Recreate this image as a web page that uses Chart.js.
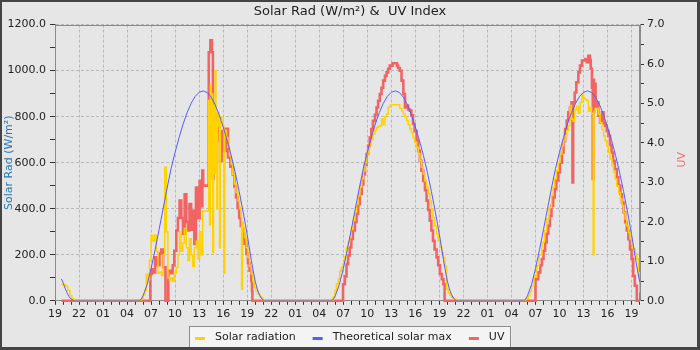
<!DOCTYPE html>
<html>
<head>
<meta charset="utf-8">
<title>Solar Rad &amp; UV Index</title>
<script src="https://cdn.jsdelivr.net/npm/chart.js@4.4.1/dist/chart.umd.min.js"></script>
<style>
  html, body { margin: 0; padding: 0; background: #e6e6e6; }
  #wrap { width: 700px; height: 350px; }
</style>
</head>
<body>
<div id="wrap"><canvas id="chart" width="700" height="350"></canvas></div>
<script>
// Hours are counted from 19:00 on the first day of the window.
const X_MAX = 73.05;
const xTickLabels = ['19', '22', '01', '04', '07', '10', '13', '16', '19', '22', '01', '04', '07',
                     '10', '13', '16', '19', '22', '01', '04', '07', '10', '13', '16', '19'];

// [hour, W/m²]
const solarRad = [
  [0.8, 72], [1.1, 70], [1.35, 62], [1.6, 45], [1.85, 22], [2.1, 8], [2.4, 0],
  [10.56, 0], [10.8, 10], [11.0, 25], [11.2, 45], [11.4, 115], [11.6, 90], [11.8, 175], [12.0, 285],
  [12.2, 260], [12.45, 285], [12.65, 215], [12.85, 120], [13.05, 125], [13.3, 110], [13.5, 200],
  [13.7, 580], [13.9, 300], [14.1, 100], [14.3, 90], [14.5, 100], [14.7, 85], [14.9, 120], [15.15, 145],
  [15.35, 200], [15.55, 300], [15.75, 215], [15.95, 250], [16.15, 315], [16.4, 230], [16.6, 175],
  [16.8, 270], [17.0, 200], [17.2, 150], [17.4, 230], [17.65, 260], [17.85, 180], [18.05, 300],
  [18.25, 200], [18.45, 390], [19.2, 870], [19.3, 330], [19.4, 940], [19.5, 600], [19.6, 900],
  [19.7, 210], [19.8, 850], [19.9, 550], [20.0, 1000], [20.1, 780], [20.2, 400], [20.3, 820],
  [20.45, 760], [20.55, 230], [20.65, 800], [20.8, 790], [21.0, 760], [21.1, 120], [21.2, 740],
  [21.4, 710], [21.6, 667], [21.8, 630], [22.0, 594], [22.2, 550], [22.4, 507], [22.6, 470],
  [22.85, 435], [23.05, 400], [23.25, 362], [23.3, 50], [23.4, 340], [23.5, 320], [23.7, 275],
  [23.9, 230], [24.1, 188], [24.3, 150], [24.5, 116], [24.7, 85], [24.9, 58], [25.1, 40],
  [25.35, 29], [25.6, 18], [25.8, 10], [26.0, 4], [26.2, 0],
  [34.5, 0], [34.7, 15], [34.95, 45], [35.15, 73], [35.35, 95], [35.56, 130], [35.75, 145],
  [35.98, 160], [36.2, 190], [36.4, 232], [36.6, 255], [36.8, 275], [37.0, 310], [37.2, 348],
  [37.45, 385], [37.65, 420], [37.85, 455], [38.06, 493], [38.3, 530], [38.5, 565], [38.7, 600],
  [38.9, 638], [39.1, 660], [39.3, 681], [39.5, 700], [39.7, 725], [39.95, 740], [40.15, 753],
  [40.35, 758], [40.56, 761], [40.77, 790], [40.98, 765], [41.2, 800], [41.4, 812], [41.6, 840],
  [41.8, 848], [42.0, 852], [42.85, 852], [43.06, 835], [43.3, 825], [43.5, 812], [43.7, 800],
  [43.9, 783], [44.1, 765], [44.3, 747], [44.5, 730], [44.7, 710], [44.9, 690], [45.15, 667],
  [45.35, 640], [45.56, 609], [45.75, 580], [45.98, 551], [46.2, 520], [46.4, 493], [46.6, 465],
  [46.8, 435], [47.0, 400], [47.2, 362], [47.4, 325], [47.65, 290], [47.85, 260], [48.06, 232],
  [48.3, 210], [48.5, 188], [48.7, 150], [48.9, 50], [49.1, 35], [49.3, 25], [49.5, 15],
  [49.7, 8], [50.15, 0],
  [58.5, 0], [58.8, 10], [59.1, 22], [59.3, 40], [59.5, 65], [59.8, 105], [60.15, 152], [60.45, 200],
  [60.8, 254], [61.1, 305], [61.4, 355], [61.7, 405], [62.0, 457], [62.2, 493], [62.4, 529],
  [62.6, 565], [62.85, 601], [63.05, 638], [63.3, 674], [63.5, 695], [63.7, 717], [63.9, 740],
  [64.1, 761], [64.3, 848], [64.5, 790], [64.7, 780], [64.9, 830], [65.1, 845], [65.35, 815],
  [65.56, 862], [65.8, 899], [66.0, 880], [66.2, 875], [66.4, 870], [66.6, 823], [66.8, 840],
  [67.0, 815], [67.2, 200], [67.3, 820], [67.45, 835], [67.65, 835], [67.85, 810], [68.06, 775],
  [68.3, 745], [68.5, 717], [68.7, 695], [68.9, 674], [69.1, 645], [69.3, 616], [69.55, 587],
  [69.75, 558], [69.95, 529], [70.15, 500], [70.4, 471], [70.6, 442], [70.8, 413], [71.0, 384],
  [71.2, 355], [71.4, 326], [71.6, 297], [71.8, 268], [72.0, 246], [72.2, 225], [72.45, 204],
  [72.65, 182], [72.85, 123], [73.05, 36]
];

// [hour, W/m²]
const theoreticalMax = [
  [0.8, 95], [1.0, 80], [1.25, 55], [1.5, 35], [1.75, 18], [2.0, 8], [2.4, 0],
  [10.5, 0], [10.75, 6], [11.0, 22], [11.5, 70], [12.0, 140], [12.5, 222], [13.0, 310], [13.5, 400],
  [14.0, 490], [14.5, 575], [15.0, 645], [15.5, 710], [16.0, 768], [16.5, 818], [17.0, 858],
  [17.5, 888], [18.0, 906], [18.5, 912], [19.0, 905], [19.5, 885], [20.0, 852], [20.5, 808],
  [21.0, 755], [21.5, 697], [22.0, 632], [22.5, 558], [23.0, 475], [23.5, 385], [24.0, 288],
  [24.5, 180], [24.75, 130], [25.0, 85], [25.25, 52], [25.5, 28], [25.75, 12], [26.0, 4], [26.2, 0],
  [34.5, 0], [34.75, 6], [35.0, 22], [35.5, 70], [36.0, 140], [36.5, 222], [37.0, 310], [37.5, 400],
  [38.0, 490], [38.5, 575], [39.0, 645], [39.5, 710], [40.0, 768], [40.5, 818], [41.0, 858],
  [41.5, 888], [42.0, 906], [42.5, 912], [43.0, 905], [43.5, 885], [44.0, 852], [44.5, 808],
  [45.0, 755], [45.5, 697], [46.0, 632], [46.5, 558], [47.0, 475], [47.5, 385], [48.0, 288],
  [48.5, 180], [48.75, 130], [49.0, 85], [49.25, 52], [49.5, 28], [49.75, 12], [50.0, 4], [50.2, 0],
  [58.5, 0], [58.75, 6], [59.0, 22], [59.5, 70], [60.0, 140], [60.5, 222], [61.0, 310], [61.5, 400],
  [62.0, 490], [62.5, 575], [63.0, 645], [63.5, 710], [64.0, 768], [64.5, 818], [65.0, 858],
  [65.5, 888], [66.0, 906], [66.5, 912], [67.0, 905], [67.5, 885], [68.0, 852], [68.5, 808],
  [69.0, 755], [69.5, 697], [70.0, 632], [70.5, 558], [71.0, 475], [71.5, 385], [72.0, 288],
  [72.5, 180], [72.75, 130], [73.0, 85], [73.05, 80]
];

// [hour, UV index]
const uvIndex = [
  [0.8, 0], [11.9, 0.68], [12.1, 0.8], [12.3, 0.72], [12.5, 1.1], [12.75, 0.9], [13.05, 1.2],
  [13.27, 1.3], [13.5, 0.85], [13.8, 0], [14.15, 0.76], [14.5, 0.7], [14.7, 0.9], [14.9, 1.27],
  [15.15, 1.78], [15.35, 2.1], [15.56, 2.54], [15.77, 2.1], [15.98, 1.7], [16.19, 2.7], [16.4, 2.0],
  [16.6, 1.78], [16.8, 2.45], [17.0, 1.8], [17.2, 2.28], [17.4, 1.44], [17.6, 2.87], [17.8, 2.1],
  [18.06, 3.04], [18.27, 2.4], [18.4, 3.3], [18.5, 2.92], [19.2, 6.3], [19.4, 6.6], [19.6, 6.3],
  [19.72, 3.1], [19.8, 4.7], [20.1, 4.5], [20.4, 4.06], [20.6, 3.55], [20.8, 4.3], [21.0, 3.8],
  [21.3, 4.36], [21.6, 3.63], [21.9, 3.4], [22.2, 3.2], [22.4, 2.9], [22.6, 2.62], [22.8, 2.35],
  [23.0, 2.1], [23.2, 1.9], [23.4, 1.7], [23.65, 1.45], [23.9, 1.19], [24.1, 0.95], [24.3, 0.76],
  [24.5, 0.5], [24.6, 0.25], [24.65, 0],
  [35.97, 0.42], [36.2, 0.62], [36.4, 0.93], [36.6, 1.15], [36.8, 1.35], [37.0, 1.57], [37.2, 1.78],
  [37.45, 2.0], [37.65, 2.2], [37.85, 2.45], [38.06, 2.71], [38.3, 2.95], [38.5, 3.21], [38.7, 3.45],
  [38.9, 3.72], [39.1, 3.93], [39.3, 4.14], [39.5, 4.35], [39.7, 4.56], [39.95, 4.72], [40.15, 4.9],
  [40.35, 5.07], [40.56, 5.24], [40.77, 5.4], [40.98, 5.58], [41.2, 5.7], [41.4, 5.79], [41.6, 5.88],
  [41.8, 5.96], [42.15, 6.02], [42.7, 5.96], [42.85, 5.9], [43.06, 5.83], [43.27, 5.58], [43.5, 5.24],
  [43.7, 4.9], [43.9, 4.95], [44.1, 4.85], [44.3, 4.82], [44.5, 4.7], [44.7, 4.48], [44.9, 4.3],
  [45.15, 4.06], [45.35, 3.8], [45.56, 3.55], [45.75, 3.3], [45.98, 3.04], [46.2, 2.8], [46.4, 2.54],
  [46.6, 2.3], [46.8, 2.03], [47.0, 1.78], [47.2, 1.52], [47.4, 1.3], [47.65, 1.1], [47.85, 0.9],
  [48.06, 0.68], [48.3, 0.55], [48.5, 0.42], [48.65, 0],
  [60.0, 0.55], [60.35, 0.72], [60.6, 0.9], [60.8, 1.06], [61.0, 1.27], [61.2, 1.48], [61.4, 1.7],
  [61.6, 1.9], [61.8, 2.15], [62.0, 2.41], [62.2, 2.62], [62.4, 2.83], [62.6, 3.05], [62.85, 3.25],
  [63.05, 3.5], [63.3, 3.76], [63.5, 4.05], [63.7, 4.35], [63.9, 4.57], [64.1, 4.78], [64.3, 4.9],
  [64.5, 5.03], [64.62, 3.0], [64.7, 5.03], [64.9, 5.28], [65.1, 5.54], [65.35, 5.79], [65.56, 5.96],
  [65.8, 6.09], [66.2, 6.13], [66.4, 6.05], [66.6, 6.21], [66.8, 6.1], [66.9, 5.88], [67.05, 5.4],
  [67.15, 3.09], [67.22, 5.6], [67.3, 4.8], [67.4, 5.5], [67.5, 4.9], [67.65, 5.03], [67.85, 4.69],
  [68.06, 4.52], [68.3, 4.78], [68.5, 4.5], [68.7, 4.44], [68.9, 4.3], [69.1, 4.18], [69.3, 3.95],
  [69.5, 3.76], [69.7, 3.55], [69.9, 3.34], [70.15, 3.13], [70.35, 2.92], [70.6, 2.7], [70.8, 2.49],
  [71.0, 2.24], [71.2, 1.99], [71.4, 1.78], [71.6, 1.56], [71.8, 1.3], [72.0, 1.06], [72.2, 0.63],
  [72.4, 0.38], [72.65, 0], [73.05, 0]
];

const BG = '#e6e6e6';
const GRID = '#b9b9b9';
const AXIS = '#8a8a8a';
const TEXT = '#222222';
const YELLOW = '#ffd200';
const BLUE = '#5a5aff';
const RED = '#f26464';
const UV_TITLE = '#f07070';
const FONT = "'DejaVu Sans', sans-serif";

const toXY = (rows) => rows.map(([x, y]) => ({ x, y }));

Chart.defaults.font.family = FONT;
Chart.defaults.font.size = 11;
Chart.defaults.color = TEXT;

// background, plot frame, right axis title, boxed legend and outer border
const decor = {
  id: 'decor',
  beforeDraw(chart) {
    const { ctx } = chart;
    ctx.save();
    ctx.fillStyle = BG;
    ctx.fillRect(0, 0, chart.width, chart.height);
    ctx.restore();
  },
  beforeDatasetsDraw(chart) {
    const { ctx, chartArea: a } = chart;
    ctx.save();
    ctx.strokeStyle = AXIS;
    ctx.lineWidth = 1;
    ctx.strokeRect(Math.round(a.left) + 0.5, Math.round(a.top) + 0.5,
                   Math.round(a.right - a.left) - 1, Math.round(a.bottom - a.top) - 1);
    ctx.restore();
  },
  afterDraw(chart) {
    const { ctx, chartArea: a } = chart;
    ctx.save();
    ctx.font = '11px ' + FONT;

    // right axis title
    ctx.save();
    ctx.translate(682, (a.top + a.bottom) / 2 - 3);
    ctx.rotate(-Math.PI / 2);
    ctx.fillStyle = UV_TITLE;
    ctx.textAlign = 'center';
    ctx.textBaseline = 'middle';
    ctx.fillText('UV', 0, 0);
    ctx.restore();

    // legend
    const items = chart.data.datasets.map(d => ({ text: d.label, color: d.borderColor }));
    const dash = 10, gapText = 10, gapItem = 17;
    const widths = items.map(it => dash + gapText + ctx.measureText(it.text).width);
    const total = widths.reduce((s, w) => s + w, 0) + gapItem * (items.length - 1);
    let x = Math.round(chart.width / 2 - total / 2);
    const yMid = 337.5;
    ctx.fillStyle = '#f4f4f4';
    ctx.fillRect(x - 5, 326, total + 12, 22);
    ctx.strokeStyle = '#8c8c8c';
    ctx.lineWidth = 1;
    ctx.strokeRect(x - 5.5, 326.5, Math.round(total + 12), 22);
    ctx.textBaseline = 'middle';
    ctx.textAlign = 'left';
    items.forEach((it, i) => {
      ctx.fillStyle = it.color;
      ctx.fillRect(x, yMid - 0.5, dash, 3);
      ctx.fillStyle = TEXT;
      ctx.fillText(it.text, x + dash + gapText, yMid);
      x += widths[i] + gapItem;
    });

    // outer border
    ctx.fillStyle = '#444444';
    ctx.fillRect(0, 0, chart.width, 2);
    ctx.fillRect(0, 0, 2, chart.height);
    ctx.fillRect(chart.width - 3, 0, 3, chart.height);
    ctx.fillRect(0, chart.height - 3, chart.width, 3);
    ctx.restore();
  }
};

new Chart(document.getElementById('chart'), {
  type: 'line',
  data: {
    datasets: [
      {
        label: 'Solar radiation', data: toXY(solarRad), yAxisID: 'y', order: 2,
        borderColor: YELLOW, backgroundColor: YELLOW, borderWidth: 1.5, stepped: true
      },
      {
        label: 'Theoretical solar max', data: toXY(theoreticalMax), yAxisID: 'y', order: 1,
        borderColor: BLUE, backgroundColor: BLUE, borderWidth: 1
      },
      {
        label: 'UV', data: toXY(uvIndex), yAxisID: 'y1', order: 3,
        borderColor: RED, backgroundColor: RED, borderWidth: 2.6, stepped: true,
        clip: { left: 0, top: 0, right: 0, bottom: 2 }
      }
    ]
  },
  options: {
    responsive: false,
    animation: false,
    parsing: false,
    elements: { point: { radius: 0 }, line: { tension: 0, borderJoinStyle: 'miter' } },
    layout: { padding: { left: 0, right: 0, top: 0, bottom: 26 } },
    plugins: {
      title: {
        display: true, text: 'Solar Rad (W/m²) &  UV Index', color: TEXT,
        font: { size: 13, weight: 'normal' }, padding: { top: 4, bottom: 5 }
      },
      legend: { display: false },
      tooltip: { enabled: false }
    },
    scales: {
      x: {
        type: 'linear', min: 0, max: X_MAX,
        ticks: {
          stepSize: 1, autoSkip: false, includeBounds: false, maxRotation: 0, padding: 3,
          color: TEXT,
          callback: (v) => (Number.isInteger(v) && v % 3 === 0) ? xTickLabels[v / 3] : ''
        },
        grid: {
          color: (c) => (c.tick && c.tick.value % 3 === 0) ? GRID : 'rgba(0,0,0,0)',
          tickColor: '#333', tickLength: 4
        },
        border: { color: AXIS, dash: [3, 2] }
      },
      y: {
        position: 'left', min: 0, max: 1200,
        afterFit: (s) => { s.width = 55; },
        title: {
          display: true, text: 'Solar Rad (W/m²)', color: '#2878b0',
          font: { size: 11 }, padding: { top: 3, bottom: 0 }
        },
        ticks: {
          stepSize: 100, padding: 4, color: TEXT,
          callback: (v) => v % 200 === 0 ? v.toFixed(1) : ''
        },
        grid: {
          color: (c) => (c.tick && c.tick.value % 200 === 0) ? GRID : 'rgba(0,0,0,0)',
          tickColor: '#333', tickLength: 5
        },
        border: { color: AXIS, dash: [3, 2] }
      },
      y1: {
        position: 'right', min: 0, max: 7,
        afterFit: (s) => { s.width = 60; },
        ticks: {
          stepSize: 0.5, padding: 3, color: TEXT,
          callback: (v) => Number.isInteger(v) ? v.toFixed(1) : ''
        },
        grid: { drawOnChartArea: false, tickColor: '#333', tickLength: 4 },
        border: { color: AXIS }
      }
    }
  },
  plugins: [decor]
});
</script>
</body>
</html>
